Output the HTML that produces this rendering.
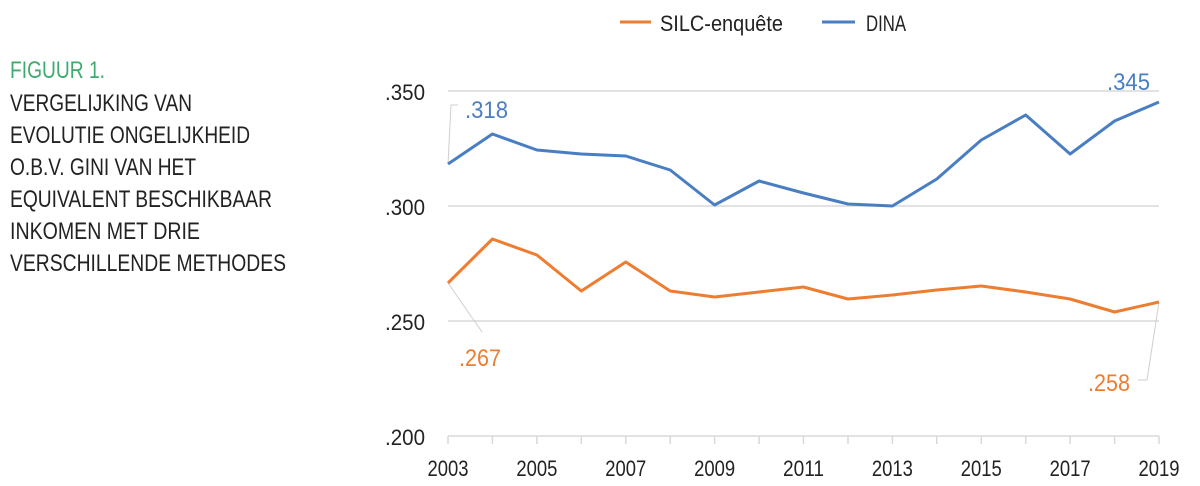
<!DOCTYPE html>
<html><head><meta charset="utf-8"><style>
html,body{margin:0;padding:0;background:#fff;}
svg{display:block;font-family:"Liberation Sans Narrow","Liberation Sans",sans-serif;}
</style></head><body>
<svg width="1200" height="486" viewBox="0 0 1200 486" xmlns="http://www.w3.org/2000/svg">
<g font-size="24" fill="#222">
<text x="10" y="78" fill="#3daa6e" textLength="95" lengthAdjust="spacingAndGlyphs">FIGUUR 1.</text>
<text x="10" y="111" textLength="182" lengthAdjust="spacingAndGlyphs">VERGELIJKING VAN</text>
<text x="10" y="143" textLength="240" lengthAdjust="spacingAndGlyphs">EVOLUTIE ONGELIJKHEID</text>
<text x="10" y="175" textLength="186" lengthAdjust="spacingAndGlyphs">O.B.V. GINI VAN HET</text>
<text x="10" y="207" textLength="262" lengthAdjust="spacingAndGlyphs">EQUIVALENT BESCHIKBAAR</text>
<text x="10" y="239" textLength="190" lengthAdjust="spacingAndGlyphs">INKOMEN MET DRIE</text>
<text x="10" y="271" textLength="276" lengthAdjust="spacingAndGlyphs">VERSCHILLENDE METHODES</text>
</g>
<g stroke="#d9d9d9" stroke-width="1.5">
<line x1="448" x2="1159" y1="91" y2="91"/>
<line x1="448" x2="1159" y1="206" y2="206"/>
<line x1="448" x2="1159" y1="321" y2="321"/>
<line x1="448" x2="1159" y1="436" y2="436"/>
<path d="M448 436v8M492.4 436v8M536.9 436v8M581.3 436v8M625.8 436v8M670.2 436v8M714.6 436v8M759.1 436v8M803.5 436v8M848 436v8M892.4 436v8M936.8 436v8M981.3 436v8M1025.7 436v8M1070.1 436v8M1114.6 436v8M1159 436v8"/>
</g>
<g font-size="22" fill="#222" text-anchor="end">
<text x="425" y="100" textLength="40" lengthAdjust="spacingAndGlyphs">.350</text>
<text x="425" y="215" textLength="40" lengthAdjust="spacingAndGlyphs">.300</text>
<text x="425" y="330" textLength="40" lengthAdjust="spacingAndGlyphs">.250</text>
<text x="425" y="445" textLength="40" lengthAdjust="spacingAndGlyphs">.200</text>
</g>
<g font-size="22" fill="#222" text-anchor="middle">
<text x="448" y="476" textLength="41" lengthAdjust="spacingAndGlyphs">2003</text><text x="536.9" y="476" textLength="41" lengthAdjust="spacingAndGlyphs">2005</text><text x="625.8" y="476" textLength="41" lengthAdjust="spacingAndGlyphs">2007</text>
<text x="714.6" y="476" textLength="41" lengthAdjust="spacingAndGlyphs">2009</text><text x="803.5" y="476" textLength="41" lengthAdjust="spacingAndGlyphs">2011</text><text x="892.4" y="476" textLength="41" lengthAdjust="spacingAndGlyphs">2013</text>
<text x="981.3" y="476" textLength="41" lengthAdjust="spacingAndGlyphs">2015</text><text x="1070.1" y="476" textLength="41" lengthAdjust="spacingAndGlyphs">2017</text><text x="1159" y="476" textLength="41" lengthAdjust="spacingAndGlyphs">2019</text>
</g>
<g stroke="#cfcfcf" stroke-width="1" fill="none">
<path d="M448 164L451 105H458"/>
<path d="M1139 110L1159 102"/>
<path d="M448 283L482 332"/>
<path d="M1138 380H1147L1159 302"/>
</g>
<polyline fill="none" stroke="#4a7ec2" stroke-width="3" stroke-linejoin="round" points="448,164 492.4,134 536.9,150 581.3,154 625.8,156 670.2,170 714.6,205 759.1,181 803.5,193 848,204 892.4,206 936.8,179 981.3,140 1025.7,115 1070.1,154 1114.6,121 1159,102"/>
<polyline fill="none" stroke="#ed7d31" stroke-width="3" stroke-linejoin="round" points="448,283 492.4,239 536.9,255 581.3,291 625.8,262 670.2,291 714.6,297 759.1,292 803.5,287 848,299 892.4,295 936.8,290 981.3,286 1025.7,292 1070.1,299 1114.6,312 1159,302"/>
<g font-size="24">
<text x="465" y="118" fill="#4a7ec2" textLength="43" lengthAdjust="spacingAndGlyphs">.318</text>
<text x="1107" y="90" fill="#4a7ec2" textLength="43" lengthAdjust="spacingAndGlyphs">.345</text>
<text x="459" y="366" fill="#ed7d31" textLength="42" lengthAdjust="spacingAndGlyphs">.267</text>
<text x="1088" y="391" fill="#ed7d31" textLength="42" lengthAdjust="spacingAndGlyphs">.258</text>
</g>
<line x1="620" x2="651" y1="22" y2="22" stroke="#ed7d31" stroke-width="3"/>
<line x1="822" x2="855" y1="22" y2="22" stroke="#4a7ec2" stroke-width="3"/>
<g font-size="22" fill="#222">
<text x="660" y="31" textLength="123" lengthAdjust="spacingAndGlyphs">SILC-enquête</text>
<text x="866" y="31" textLength="40" lengthAdjust="spacingAndGlyphs">DINA</text>
</g>
</svg>
</body></html>
